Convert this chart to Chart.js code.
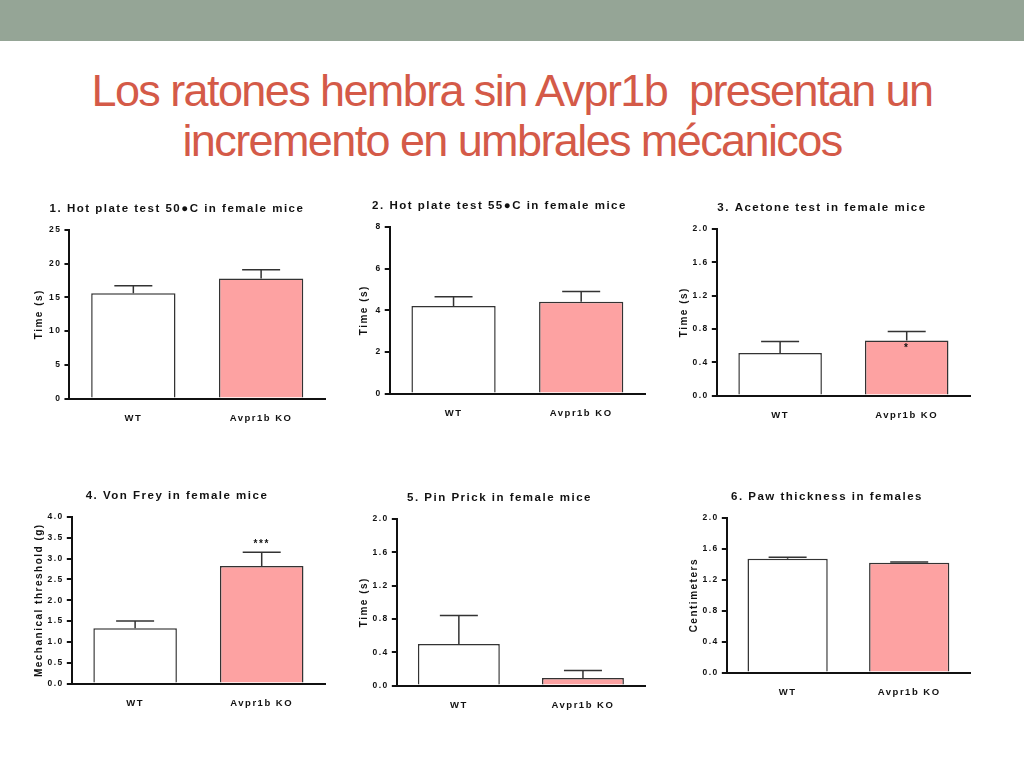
<!DOCTYPE html>
<html><head><meta charset="utf-8">
<script src="https://cdn.jsdelivr.net/npm/chart.js@4/dist/chart.umd.min.js"></script>
<style>
body{margin:0;width:1024px;height:768px;background:#fff;position:relative;overflow:hidden;font-family:"Liberation Sans",Arial,sans-serif}
#bar{position:absolute;left:0;top:0;width:1024px;height:41px;background:#95a596}
#title{position:absolute;left:0;top:66px;width:1024px;text-align:center;color:#d45a48;font-family:"Liberation Sans Narrow","Liberation Sans",sans-serif;font-size:45px;line-height:50px;letter-spacing:-1.6px}
.c{position:absolute}
</style></head><body>
<div id="bar"></div>
<div id="title">Los ratones hembra sin Avpr1b &nbsp;presentan un<br>incremento en umbrales mécanicos</div>
<div class="c" style="left:25px;top:198px;width:310px;height:232px"><canvas id="c1"></canvas></div>
<div class="c" style="left:350px;top:195px;width:305px;height:230px"><canvas id="c2"></canvas></div>
<div class="c" style="left:670px;top:197px;width:310px;height:230px"><canvas id="c3"></canvas></div>
<div class="c" style="left:25px;top:485px;width:310px;height:230px"><canvas id="c4"></canvas></div>
<div class="c" style="left:350px;top:487px;width:305px;height:230px"><canvas id="c5"></canvas></div>
<div class="c" style="left:680px;top:486px;width:300px;height:218px"><canvas id="c6"></canvas></div>
<script>
const categories=["WT","Avpr1b KO"];
const titles=["1. Hot plate test 50\u25CFC in female mice","2. Hot plate test 55\u25CFC in female mice","3. Acetone test in female mice","4. Von Frey in female mice","5. Pin Prick in female mice","6. Paw thickness in females"];
const yLabels=["Time (s)","Time (s)","Time (s)","Mechanical threshold (g)","Time (s)","Centimeters"];
const means1=[15.6,17.8], errs1=[16.7,19.1];
const means2=[4.2,4.4], errs2=[4.65,4.9];
const means3=[0.51,0.66], errs3=[0.65,0.77];
const means4=[1.33,2.82], errs4=[1.5,3.15];
const means5=[0.5,0.09], errs5=[0.84,0.18];
const means6=[1.47,1.42], errs6=[1.49,1.43];
const yMax=[25,8,2,4,2,2], yStep=[5,2,0.4,0.5,0.4,0.4], yDec=[0,0,1,1,1,1];
const stars=[["",""],["",""],["","*"],["","***"],["",""],["",""]];
const means=[means1,means2,means3,means4,means5,means6];
const errs=[errs1,errs2,errs3,errs4,errs5,errs6];

const spacing={id:'spacing',beforeDraw(c){c.ctx.letterSpacing='1.5px';},afterDraw(c){c.ctx.letterSpacing='0px';}};
const errPlugin={id:'errs',afterDatasetsDraw(c,a,o){
  const ctx=c.ctx,meta=c.getDatasetMeta(0),y=c.scales.y;
  ctx.save();ctx.strokeStyle='#333';ctx.lineWidth=1.5;
  meta.data.forEach((b,i)=>{
    const top=y.getPixelForValue(o.errs[i]),m=y.getPixelForValue(o.means[i]);
    ctx.beginPath();ctx.moveTo(b.x,m);ctx.lineTo(b.x,top);ctx.moveTo(b.x-19,top);ctx.lineTo(b.x+19,top);ctx.stroke();
    const s=o.stars[i];
    if(s){ctx.fillStyle='#111';ctx.font='bold 10px "Liberation Sans"';ctx.textAlign='center';
      if(s==='*'){ctx.fillText(s,b.x,top+20);}else{ctx.fillText(s,b.x,top-5);}}
  });
  ctx.restore();
}};
for(let k=0;k<6;k++){
  new Chart(document.getElementById('c'+(k+1)),{
    type:'bar',
    data:{labels:categories,datasets:[{data:means[k],backgroundColor:['#ffffff','#fda2a2'],borderColor:'#333',borderWidth:1.5,barPercentage:0.66,categoryPercentage:1}]},
    options:{responsive:true,maintainAspectRatio:false,animation:false,
      layout:{padding:{left:4,right:10,top:0,bottom:0}},
      plugins:{legend:{display:false},tooltip:{enabled:false},
        title:{display:true,text:titles[k],color:'#111',font:{family:'Liberation Sans',size:11.5,weight:'bold'},padding:{top:4,bottom:14}},
        errs:{means:means[k],errs:errs[k],stars:stars[k]}},
      scales:{
        x:{grid:{display:false,drawOnChartArea:false},border:{color:'#111',width:2},
           ticks:{color:'#111',font:{family:'Liberation Sans',size:9.5,weight:'bold'},padding:6}},
        y:{min:0,max:yMax[k],grid:{drawOnChartArea:false,color:'#111',tickLength:5,lineWidth:2},border:{color:'#111',width:2},
           ticks:{stepSize:yStep[k],color:'#111',font:{family:'Liberation Sans',size:8.5,weight:'bold'},callback:v=>Number(v).toFixed(yDec[k])},
           title:{display:true,text:yLabels[k],color:'#111',font:{family:'Liberation Sans',size:10,weight:'bold'}}}
      }},
    plugins:[spacing,errPlugin]
  });
}
</script></body></html>
